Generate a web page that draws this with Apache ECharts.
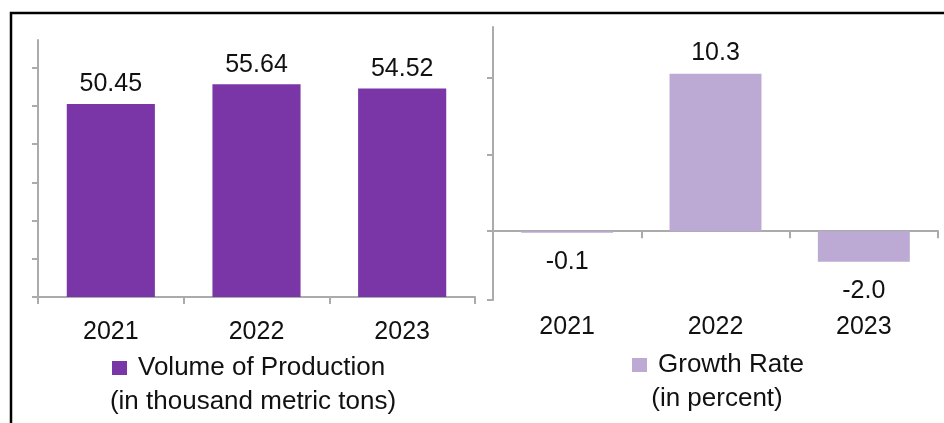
<!DOCTYPE html>
<html>
<head>
<meta charset="utf-8">
<script src="https://cdn.jsdelivr.net/npm/echarts@6/dist/echarts.min.js"></script>
<style>
  html, body { margin: 0; padding: 0; background: #fff; }
  #main { width: 944px; height: 423px; }
</style>
</head>
<body>
<div id="main"></div>
<script>
const years = ['2021', '2022', '2023'];
const production = [50.45, 55.64, 54.52];
const growth = [-0.1, 10.3, -2.0];
const prodTicks = [0, 10, 20, 30, 40, 50, 60];
const growthTicks = [0, 5, 10];

const font = 'Liberation Sans, Arial, sans-serif';
const darkPurple = '#7A36A7';
const lightPurple = '#BDAAD4';
const axisGrey = '#ABABAB';

const chartDom = document.getElementById('main');
const myChart = echarts.init(chartDom, null, { renderer: 'canvas' });

// growth labels sit above or below the bar depending on sign
const growthData = growth.map(v => ({
  value: v,
  label: {
    position: v < 0 ? 'bottom' : 'top',
    distance: v < 0 ? 17 : 8
  }
}));

const option = {
  animation: false,
  backgroundColor: '#fff',
  textStyle: { fontFamily: font },
  grid: [
    { left: 38, top: 40, width: 437, height: 257 },
    { left: 493, top: 27, width: 445, height: 273 }
  ],
  legend: [
    {
      data: ['Volume of Production'],
      left: 112, top: 355, padding: 0,
      itemWidth: 15, itemHeight: 14, itemGap: 0,
      icon: 'rect',
      selectedMode: false,
      textStyle: { fontFamily: font, fontSize: 26, color: '#111', padding: [0, 0, 0, 6] }
    },
    {
      data: ['Growth Rate'],
      left: 632, top: 352, padding: 0,
      itemWidth: 15, itemHeight: 14, itemGap: 0,
      icon: 'rect',
      selectedMode: false,
      textStyle: { fontFamily: font, fontSize: 26, color: '#111', padding: [0, 0, 0, 6] }
    }
  ],
  xAxis: [
    {
      type: 'category', gridIndex: 0, data: years,
      axisLine: { lineStyle: { color: axisGrey, width: 2 } },
      axisTick: { show: true, alignWithLabel: false, length: 7, lineStyle: { color: axisGrey, width: 2 } },
      axisLabel: { fontFamily: font, fontSize: 25, color: '#111', margin: 23 }
    },
    {
      type: 'category', gridIndex: 1, data: years,
      axisLine: { onZero: true, lineStyle: { color: axisGrey, width: 2 } },
      axisTick: { show: true, alignWithLabel: false, length: 7, lineStyle: { color: axisGrey, width: 2 } },
      axisLabel: { show: false }
    },
    {
      type: 'category', gridIndex: 1, data: years, position: 'bottom',
      axisLine: { show: false, onZero: false },
      axisTick: { show: false },
      axisLabel: { fontFamily: font, fontSize: 25, color: '#111', margin: 15 }
    }
  ],
  yAxis: [
    {
      type: 'value', gridIndex: 0, min: 0, max: 67.2,
      splitLine: { show: false },
      axisLine: { show: true, lineStyle: { color: axisGrey, width: 2 } },
      axisTick: { show: true, length: 6, customValues: prodTicks, lineStyle: { color: axisGrey, width: 2 } },
      axisLabel: { show: false }
    },
    {
      type: 'value', gridIndex: 1, min: -4.5, max: 13.35,
      splitLine: { show: false },
      axisLine: { show: true, onZero: false, lineStyle: { color: axisGrey, width: 2 } },
      axisTick: { show: true, length: 6, customValues: [-4.5].concat(growthTicks), lineStyle: { color: axisGrey, width: 2 } },
      axisLabel: { show: false }
    }
  ],
  series: [
    {
      name: 'Volume of Production',
      type: 'bar',
      xAxisIndex: 0, yAxisIndex: 0,
      barWidth: '60.5%',
      itemStyle: { color: darkPurple },
      label: {
        show: true, position: 'top', distance: 7,
        fontFamily: font, fontSize: 25, color: '#111',
        formatter: p => p.value.toFixed(2)
      },
      data: production
    },
    {
      name: 'Growth Rate',
      type: 'bar',
      xAxisIndex: 1, yAxisIndex: 1,
      barWidth: '62%',
      itemStyle: { color: lightPurple },
      label: {
        show: true,
        fontFamily: font, fontSize: 25, color: '#111',
        formatter: p => p.value.toFixed(1)
      },
      data: growthData
    }
  ],
  graphic: [
    {
      type: 'rect', silent: true,
      shape: { x: 11, y: 13, width: 1000, height: 500 },
      style: { fill: 'none', stroke: '#000', lineWidth: 2.5 }
    },
    {
      type: 'text', silent: true,
      style: {
        text: '(in thousand metric tons)', x: 253, y: 402,
        textAlign: 'center', textVerticalAlign: 'middle',
        font: '26px ' + font, fill: '#111'
      }
    },
    {
      type: 'text', silent: true,
      style: {
        text: '(in percent)', x: 717, y: 399,
        textAlign: 'center', textVerticalAlign: 'middle',
        font: '26px ' + font, fill: '#111'
      }
    }
  ]
};

option && myChart.setOption(option);
</script>
</body>
</html>
